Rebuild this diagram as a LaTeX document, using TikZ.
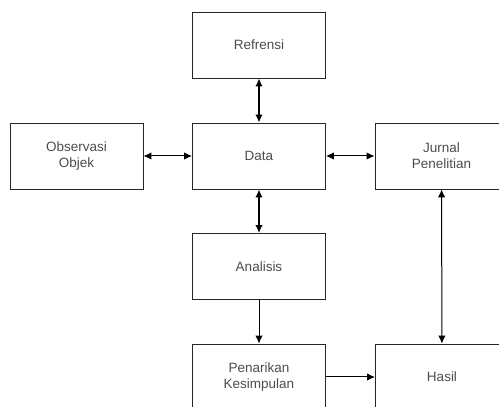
\documentclass[tikz,border=0pt]{standalone}
\usepackage{fontspec}
\setmainfont{Liberation Sans}
\usetikzlibrary{arrows.meta}

\tikzset{
  kotak/.style={draw=black!85,line width=0.9pt,minimum width=133pt,minimum height=66pt,
    align=center,text=black!70,font=\fontsize{13.5}{16}\selectfont,inner sep=0pt},
  panah/.style={black,line width=1pt,>={Latex[length=8pt,width=7.5pt]}},
  panahtebal/.style={black,line width=1.6pt,>={Latex[length=8pt,width=7.5pt]}}
}

\begin{document}
\begin{tikzpicture}[x=1pt,y=1pt]
            \useasboundingbox (0,0) rectangle (499,407);
            \clip (0,0) rectangle (499,407);

            \node[kotak] (refrensi) at (259,362){Refrensi};
            \node[kotak] (data) at (259,251){Data};
            \node[kotak] (observasi) at (76.5,251){Observasi\\Objek};
            \node[kotak] (jurnal) at (441.5,251){Jurnal\\Penelitian};
            \node[kotak] (analisis) at (259,140.5){Analisis};
            \node[kotak] (penarikan) at (259,30){Penarikan\\Kesimpulan};
            \node[kotak] (hasil) at (442,30){Hasil};

            \draw[panahtebal,<->] (refrensi) -- (data);
            \draw[panahtebal,<->] (data) -- (analisis);
            \draw[panah,<->] (observasi) -- (data);
            \draw[panah,<->] (data) -- (jurnal);
            \draw[panah,<->] (jurnal) -- (hasil);
            \draw[panah,->] (analisis) -- (penarikan);
            \draw[panah,->] (penarikan) -- (hasil);
          \end{tikzpicture}
\end{document}
